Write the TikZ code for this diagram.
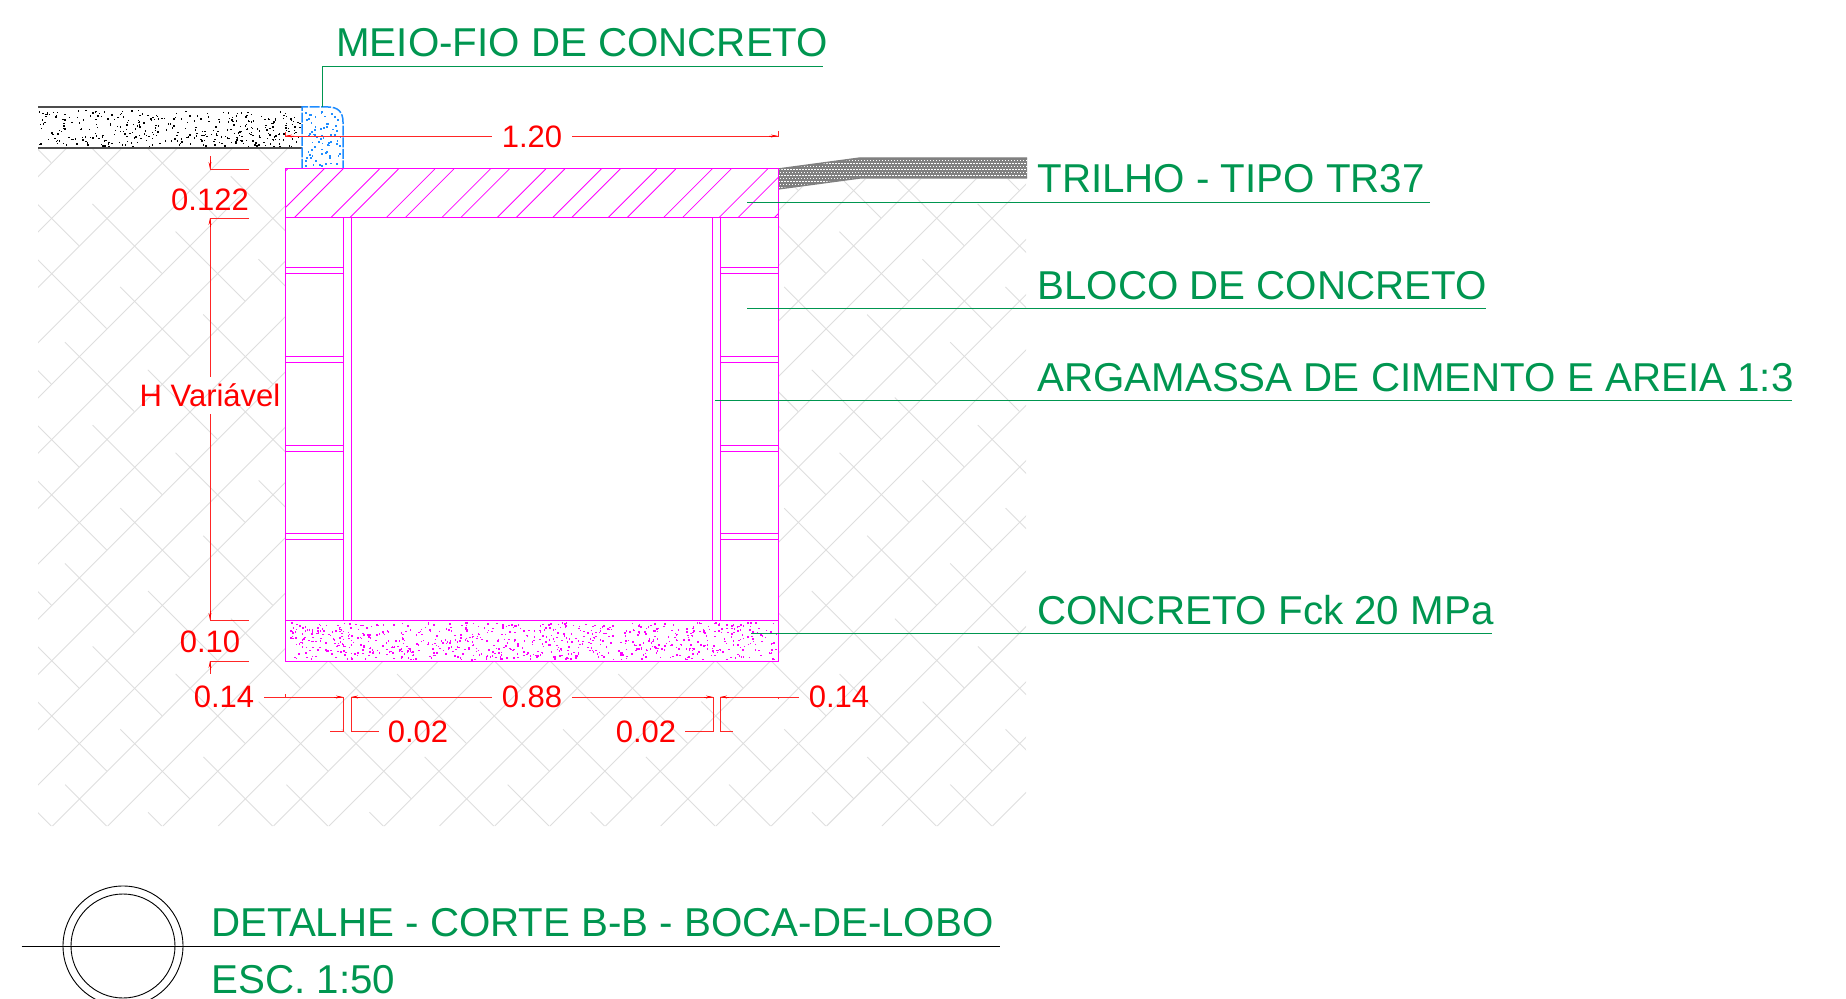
\documentclass[tikz,border=0pt]{standalone}
\usepackage{fontspec}
\setmainfont{Liberation Sans}
\usetikzlibrary{arrows.meta}
\definecolor{cadgreen}{RGB}{0,150,80}
\definecolor{cadmag}{RGB}{255,0,255}
\definecolor{cadblue}{RGB}{30,140,255}
\definecolor{cadred}{RGB}{255,0,0}
\definecolor{hatchgrey}{RGB}{222,222,222}
\tikzset{
  note/.style={text=cadgreen,font=\fontsize{20.15}{24}\selectfont,anchor=west,inner sep=0pt},
  dimtext/.style={text=cadred,font=\fontsize{15.5}{18}\selectfont,inner sep=0pt},
  leader/.style={draw=cadgreen,line width=0.4pt},
  dimline/.style={draw=cadred!85!white,line width=0.45pt},
  tiptick/.style={-{Stealth[length=3.5pt,width=1.4pt]},draw=cadred,fill=cadred,line width=0.3pt},
  wall/.style={draw=cadmag,line width=0.5pt},
  thinwall/.style={draw=cadmag,line width=0.4pt},
  ground/.style={draw=hatchgrey,line width=0.45pt}
}
\begin{document}
\begin{tikzpicture}[x=0.5pt,y=-0.5pt]
\useasboundingbox (0,0) rectangle (1846,999);
\clip (0,0) rectangle (1846,999);
\pgfmathsetseed{4711}
% ground hatch
\begin{scope}
\clip (38,148) -- (302,148) -- (302,169) -- (778,169) -- (778,189) -- (860,179) -- (1026,179) -- (1026,826) -- (38,826) -- cycle;
\foreach \k in {-25,...,6}{
  \pgfmathsetmacro\s{1542+55.3*\k}
  \draw[ground] ({\s-826},826) -- ({\s-148},148);
}
\foreach \j in {-13,...,3}{
  \foreach \i in {-20,...,12}{
    \pgfmathsetmacro\xa{784.3-55.3*\i+83*\j}
    \pgfmathsetmacro\ya{729.3+55.3*\i+27.65*\j}
    \draw[ground] (\xa,\ya) -- ++(69.3,69.3);
  }
}
\end{scope}
% road
\foreach \i in {1,...,380}{
  \pgfmathsetmacro\xa{38+rnd*262}
  \pgfmathsetmacro\ya{110+rnd*37}
  \fill[black] (\xa,\ya) rectangle ++(1.4,1.4);
}
\draw[black!70,line width=0.6pt] (38,107) -- (302,107);
\draw[black!70,line width=0.6pt] (38,148) -- (302,148);
% curb
\foreach \i in {1,...,70}{
  \pgfmathsetmacro\xa{304+rnd*36}
  \pgfmathsetmacro\ya{110+rnd*56}
  \fill[cadblue] (\xa,\ya) rectangle ++(1.8,1.8);
}
\draw[cadblue,line width=0.75pt,dash pattern=on 5pt off 0.8pt] (302,169) -- (302,107) -- (328,107) .. controls (338,107) and (343,112) .. (343,122) -- (343,169);
% rail
\fill[black!50] (778,169) -- (860,158) -- (1027,158) -- (1027,178) -- (860,178) -- (778,189) -- cycle;
\begin{scope}
\clip (778,169) -- (860,158) -- (1027,158) -- (1027,178) -- (860,178) -- (778,189) -- cycle;
\foreach \r in {0,...,11}{
  \foreach \c in {0,...,84}{
    \pgfmathsetmacro\xa{778+3*\c+1.5*mod(\r,2)}
    \pgfmathsetmacro\ya{157+3*\r}
    \fill[white] (\xa,\ya) rectangle ++(1.5,1.5);
  }
}
\end{scope}
\draw[black!50,line width=0.7pt] (778,169) -- (860,158) -- (1027,158);
\draw[black!50,line width=0.7pt] (778,189) -- (860,178) -- (1027,178);
% box interior
\fill[white] (285,169) rectangle (778,661);
% slab hatch
\begin{scope}
\clip (285,169) rectangle (778,218);
\foreach \k in {-1,...,10}{
  \pgfmathsetmacro\sa{493+55.45*\k}
  \pgfmathsetmacro\sb{512+55.45*\k}
  \draw[thinwall] ({\sa-218},218) -- ({\sa-169},169);
  \draw[thinwall] ({\sb-218},218) -- ({\sb-169},169);
}
\end{scope}
% concrete stipple
\foreach \i in {1,...,800}{
  \pgfmathsetmacro\xa{287+rnd*489}
  \pgfmathsetmacro\ya{622+rnd*37}
  \fill[cadmag] (\xa,\ya) rectangle ++(1.5,1.5);
}
% box
\draw[wall] (285,169) rectangle (778,661);
\draw[wall] (285,218) -- (778,218);
\draw[wall] (285,620) -- (778,620);
\draw[wall] (343,218) -- (343,620);
\draw[wall] (351,218) -- (351,620);
\draw[wall] (712,218) -- (712,620);
\draw[wall] (720,218) -- (720,620);
\foreach \y in {267,273,356,362,445,451,533,539}{
  \draw[thinwall] (285,\y) -- (343,\y);
  \draw[thinwall] (720,\y) -- (778,\y);
}
% labels
\node[note] (meio) at (336,43) {MEIO-FIO DE CONCRETO};
\node[note] (trilho) at (1037,179) {TRILHO - TIPO TR37};
\node[note] (bloco) at (1037,286) {BLOCO DE CONCRETO};
\node[note] (arg) at (1037,378) {ARGAMASSA DE CIMENTO E AREIA 1:3};
\node[note] (conc) at (1037,610) {CONCRETO Fck 20 MPa};
\node[note] (title) at (211,923) {DETALHE - CORTE B-B - BOCA-DE-LOBO};
\node[note] (esc) at (211,980) {ESC. 1:50};
% leaders
\coordinate (a0) at (322,107); \coordinate (a1) at (322,66); \coordinate (a2) at (823,66);
\draw[leader] (a0) -- (a1) -- (a2);
\coordinate (b0) at (747,202); \coordinate (b1) at (1430,202);
\draw[leader] (b0) -- (b1);
\coordinate (c0) at (747,308); \coordinate (c1) at (1486,308);
\draw[leader] (c0) -- (c1);
\coordinate (d0) at (715,400); \coordinate (d1) at (1792,400);
\draw[leader] (d0) -- (d1);
\coordinate (e0) at (751,633); \coordinate (e1) at (1492,633);
\draw[leader] (e0) -- (e1);
% title symbol
\node[circle,draw=black,line width=0.45pt,minimum size=60pt,inner sep=0pt] (ringa) at (123,946) {};
\node[circle,draw=black,line width=0.45pt,minimum size=52pt,inner sep=0pt] (ringb) at (123,946) {};
\coordinate (t0) at (21.5,946); \coordinate (t1) at (1000,946);
\draw[black,line width=0.5pt] (t0) -- (t1);
% dimensions
\node[dimtext] (d120) at (532,137) {1.20};
\node[dimtext] (d122) at (210,200) {0.122};
\node[dimtext] (dH) at (210,395) {H Variável};
\node[dimtext] (d10) at (210,642) {0.10};
\node[dimtext] (d14a) at (224,697) {0.14};
\node[dimtext] (d88) at (532,697) {0.88};
\node[dimtext] (d14b) at (839,697) {0.14};
\node[dimtext] (d02a) at (418,731.5) {0.02};
\node[dimtext] (d02b) at (646,731.5) {0.02};
\draw[dimline] (285,132) -- (285,137) (285,136) -- (492,136);
\draw[dimline] (572,136) -- (778,136) (778,131) -- (778,137);
\draw[dimline] (210,156) -- (210,169) -- (249,169);
\draw[dimline] (249,218) -- (210,218) -- (210,377);
\draw[dimline] (210,414) -- (210,620) -- (249,620);
\draw[dimline] (249,661) -- (210,661) -- (210,674);
\draw[dimline] (264,697) -- (343,697) -- (343,731) -- (330,731);
\draw[dimline] (285,694) -- (285,698);
\draw[dimline] (492,697) -- (351,697) -- (351,731) -- (379,731);
\draw[dimline] (572,697) -- (713,697) -- (713,731) -- (685,731);
\draw[dimline] (799,697) -- (720,697) -- (720,731) -- (733,731);
\draw[dimline] (778,697) -- (778,699);
% arrow tips
\draw[tiptick] (210,160) -- (210,169);
\draw[tiptick] (210,227) -- (210,218);
\draw[tiptick] (210,611) -- (210,620);
\draw[tiptick] (210,670) -- (210,661);
\draw[tiptick] (294,136) -- (285,136);
\draw[tiptick] (769,136) -- (778,136);
\draw[tiptick] (334,697) -- (343,697);
\draw[tiptick] (360,697) -- (351,697);
\draw[tiptick] (704,697) -- (713,697);
\draw[tiptick] (729,697) -- (720,697);
\end{tikzpicture}
\end{document}
